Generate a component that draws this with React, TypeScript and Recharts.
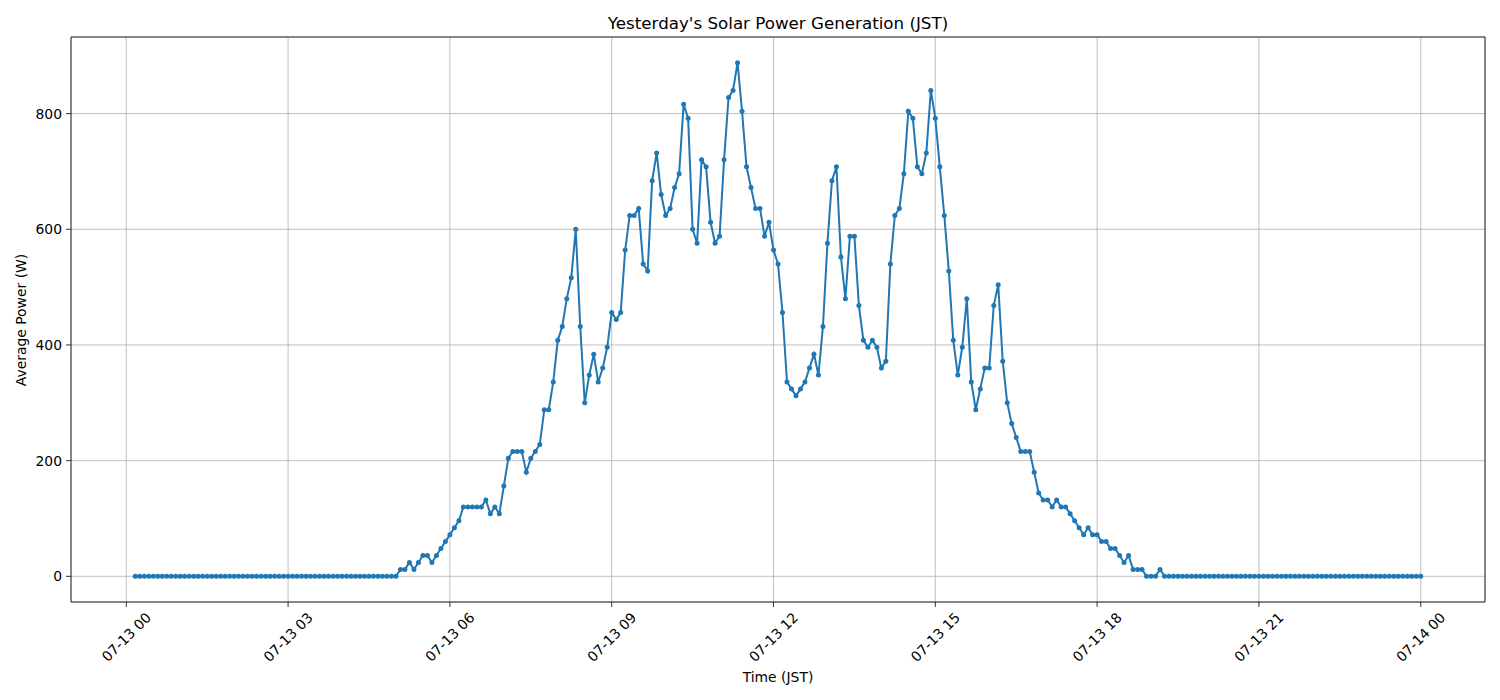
import { LineChart, Line, XAxis, YAxis, CartesianGrid, ReferenceArea } from 'recharts'

// 5-minute averages, 07-13 00:10 .. 07-14 00:00 (JST)
const nightBefore = [
  0, 0, 0, 0, 0, 0, 0, 0, 0, 0, 0, 0, 0, 0, 0, 0, 0, 0, 0, 0, 0, 0, 0, 0, 0, 0, 0, 0, 0,
  0, 0, 0, 0, 0, 0, 0, 0, 0, 0, 0, 0, 0, 0, 0, 0, 0, 0, 0, 0, 0, 0, 0, 0, 0, 0, 0, 0, 0,
] // 00:10 - 04:55
const h05 = [0, 12, 12, 24, 12, 24, 36, 36, 24, 36, 48, 60]
const h06 = [72, 84, 96, 120, 120, 120, 120, 120, 132, 108, 120, 108]
const h07 = [156, 204, 216, 216, 216, 180, 204, 216, 228, 288, 288, 336]
const h08 = [408, 432, 480, 516, 600, 432, 300, 348, 384, 336, 360, 396]
const h09 = [456, 444, 456, 564, 624, 624, 636, 540, 528, 684, 732, 660]
const h10 = [624, 636, 672, 696, 816, 792, 600, 576, 720, 708, 612, 576]
const h11 = [588, 720, 828, 840, 888, 804, 708, 672, 636, 636, 588, 612]
const h12 = [564, 540, 456, 336, 324, 312, 324, 336, 360, 384, 348, 432]
const h13 = [576, 684, 708, 552, 480, 588, 588, 468, 408, 396, 408, 396]
const h14 = [360, 372, 540, 624, 636, 696, 804, 792, 708, 696, 732, 840]
const h15 = [792, 708, 624, 528, 408, 348, 396, 480, 336, 288, 324, 360]
const h16 = [360, 468, 504, 372, 300, 264, 240, 216, 216, 216, 180, 144]
const h17 = [132, 132, 120, 132, 120, 120, 108, 96, 84, 72, 84, 72]
const h18 = [72, 60, 60, 48, 48, 36, 24, 36, 12, 12, 12, 0]
const h19 = [0, 0, 12]
const nightAfter = [
  0, 0, 0, 0, 0, 0, 0, 0, 0, 0, 0, 0, 0, 0, 0, 0, 0, 0, 0, 0, 0, 0, 0, 0, 0, 0, 0, 0, 0,
  0, 0, 0, 0, 0, 0, 0, 0, 0, 0, 0, 0, 0, 0, 0, 0, 0, 0, 0, 0, 0, 0, 0, 0, 0, 0, 0, 0, 0,
] // 19:15 - 24:00

const xTicks = [0, 180, 360, 540, 720, 900, 1080, 1260, 1440]
const xTickLabels = [
  '07-13 00', '07-13 03', '07-13 06', '07-13 09', '07-13 12',
  '07-13 15', '07-13 18', '07-13 21', '07-14 00',
]
const yTicks = [0, 200, 400, 600, 800]

const powers = [
  ...nightBefore, ...h05, ...h06, ...h07, ...h08, ...h09, ...h10, ...h11, ...h12,
  ...h13, ...h14, ...h15, ...h16, ...h17, ...h18, ...h19, ...nightAfter,
]
const data = powers.map((w, i) => ({ t: 10 + i * 5, w }))

const FONT = '"DejaVu Sans", sans-serif'
const X_DOMAIN: [number, number] = [-61.5, 1511.5]
const Y_DOMAIN: [number, number] = [-44.4, 932.4]

// eslint-disable-next-line @typescript-eslint/no-explicit-any
function XTick({ x, payload }: any) {
  const idx = xTicks.indexOf(payload.value)
  const cy = 637
  return (
    <text
      x={x}
      y={cy}
      textAnchor="middle"
      dominantBaseline="central"
      transform={`rotate(-45, ${x}, ${cy})`}
      fontSize={13.9}
      fontFamily={FONT}
      fill="#000"
    >
      {xTickLabels[idx]}
    </text>
  )
}

export default function App() {
  return (
    <div style={{ position: 'absolute', left: 0, top: 0, width: 1500, height: 700, background: '#fff', fontFamily: FONT }}>
      <div style={{ position: 'absolute', left: 378, top: 12, width: 800, textAlign: 'center', fontSize: 16.7, lineHeight: '22px', color: '#000' }}>
        Yesterday's Solar Power Generation (JST)
      </div>
      <div style={{ position: 'absolute', left: 678, top: 667, width: 200, textAlign: 'center', fontSize: 13.9, lineHeight: '20px', color: '#000' }}>
        Time (JST)
      </div>
      <div
        style={{
          position: 'absolute', left: 21 - 100, top: 319.5 - 10, width: 200, textAlign: 'center',
          fontSize: 13.9, lineHeight: '20px', color: '#000', transform: 'rotate(-90deg)',
        }}
      >
        Average Power (W)
      </div>
      <LineChart width={1500} height={700} data={data} margin={{ top: 37, right: 15, bottom: 0, left: 0 }}>
        <CartesianGrid stroke="#b0b0b0" strokeWidth={0.8} />
        <XAxis
          dataKey="t"
          type="number"
          domain={X_DOMAIN}
          ticks={xTicks}
          height={98}
          tick={<XTick />}
          tickSize={5}
          tickLine={{ stroke: '#000', strokeWidth: 0.8 }}
          axisLine={false}
          allowDataOverflow
          interval={0}
        />
        <YAxis
          type="number"
          domain={Y_DOMAIN}
          ticks={yTicks}
          width={71}
          tickSize={5}
          tickMargin={4}
          tick={{ fontSize: 13.9, fontFamily: FONT, fill: '#000' }}
          tickLine={{ stroke: '#000', strokeWidth: 0.8 }}
          axisLine={false}
          allowDataOverflow
          interval={0}
        />
        <Line
          dataKey="w"
          type="linear"
          stroke="#1f77b4"
          strokeWidth={2}
          dot={{ r: 2.5, fill: '#1f77b4', stroke: 'none' }}
          isAnimationActive={false}
        />
        <ReferenceArea
          x1={X_DOMAIN[0]}
          x2={X_DOMAIN[1]}
          y1={Y_DOMAIN[0]}
          y2={Y_DOMAIN[1]}
          fill="none"
          fillOpacity={0}
          stroke="#000"
          strokeWidth={0.8}
          ifOverflow="visible"
        />
      </LineChart>
    </div>
  )
}
